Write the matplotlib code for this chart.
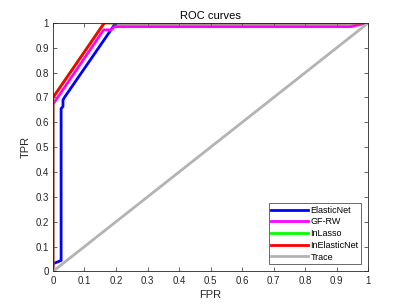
import matplotlib
matplotlib.use("Agg")
import matplotlib.pyplot as plt

plt.rcParams["font.family"] = ["Liberation Sans", "DejaVu Sans"]

# ROC points
elastic_fpr = [0.0, 0.0, 0.026, 0.026, 0.032, 0.032, 0.036, 0.195, 0.2, 1.0]
elastic_tpr = [0.0, 0.031, 0.044, 0.655, 0.664, 0.69, 0.699, 0.992, 1.0, 1.0]

gfrw_fpr = [0.0, 0.0, 0.161, 0.185, 0.195, 0.945, 0.997, 1.0]
gfrw_tpr = [0.0, 0.672, 0.972, 0.972, 0.985, 0.985, 1.0, 1.0]

inlasso_fpr = [0.0, 0.0, 0.163, 1.0]
inlasso_tpr = [0.0, 0.699, 1.0, 1.0]

inelastic_fpr = [0.0, 0.0, 0.163, 1.0]
inelastic_tpr = [0.0, 0.699, 1.0, 1.0]

trace = [0.0, 1.0]

ticks = [0, 0.1, 0.2, 0.3, 0.4, 0.5, 0.6, 0.7, 0.8, 0.9, 1]
tick_labels = ["0", "0.1", "0.2", "0.3", "0.4", "0.5", "0.6", "0.7", "0.8", "0.9", "1"]

fig = plt.figure(figsize=(4.07, 3.05), dpi=100)
ax = fig.add_axes([0.13, 0.11, 0.775, 0.815])

ax.plot(elastic_fpr, elastic_tpr, color="#0000ff", lw=2, label="ElasticNet")
ax.plot(gfrw_fpr, gfrw_tpr, color="#ff00ff", lw=2, label="GF-RW")
ax.plot(inlasso_fpr, inlasso_tpr, color="#00ff00", lw=2, label="InLasso")
ax.plot(inelastic_fpr, inelastic_tpr, color="#ff0000", lw=2, label="InElasticNet")
ax.plot(trace, trace, color="#b3b3b3", lw=2, label="Trace")

ax.set_xlim(0, 1)
ax.set_ylim(0, 1)
ax.set_xticks(ticks)
ax.set_xticklabels(tick_labels)
ax.set_yticks(ticks)
ax.set_yticklabels(tick_labels)
ax.tick_params(direction="in", length=3, width=0.5, labelsize=7, colors="#262626",
               top=True, right=True, pad=3)
for s in ax.spines.values():
    s.set_linewidth(0.6)
    s.set_color("#262626")

ax.set_xlabel("FPR", fontsize=8, color="#262626", labelpad=3)
ax.set_ylabel("TPR", fontsize=8, color="#262626", labelpad=3)
ax.set_title("ROC curves", fontsize=8, color="#000000", pad=3)

leg = ax.legend(loc="lower right", fontsize=6.5, frameon=True, fancybox=False,
                edgecolor="#262626", handlelength=4.0, handletextpad=0.3,
                labelspacing=0.3, borderpad=0.3, borderaxespad=0.8)
leg.get_frame().set_linewidth(0.6)

fig.savefig("out.png", dpi=100)
